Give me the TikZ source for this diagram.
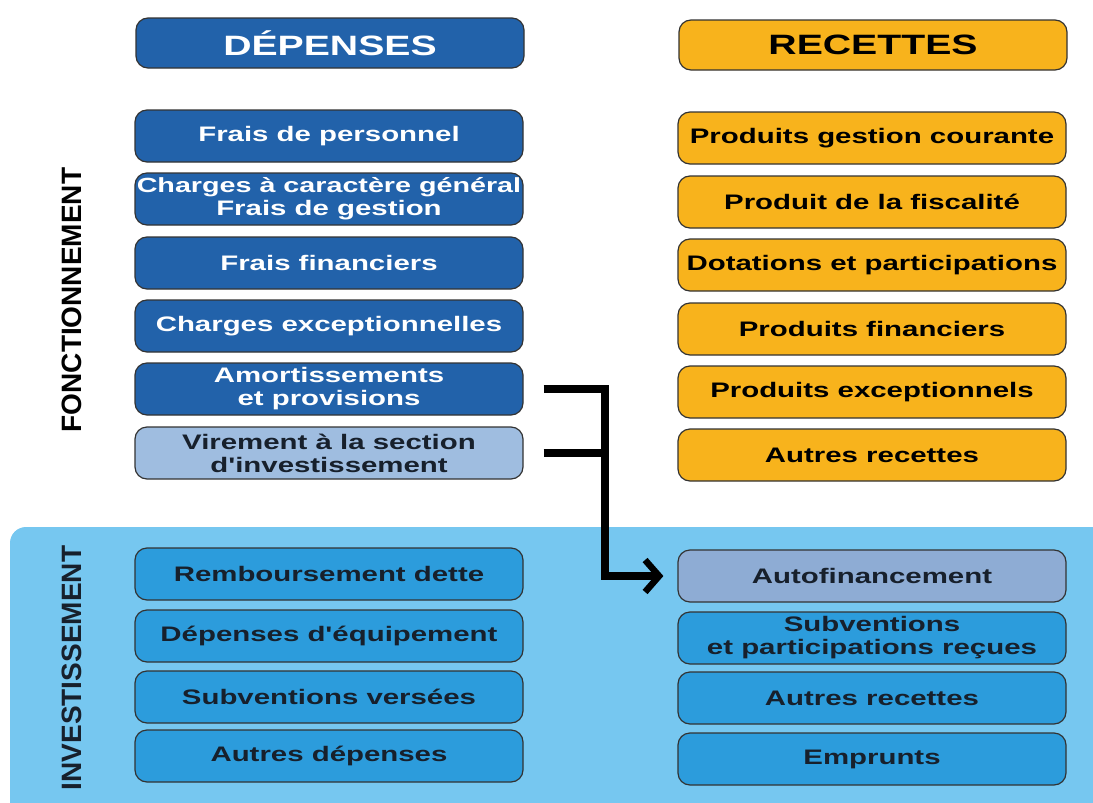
\documentclass[tikz,border=0pt]{standalone}
\usepackage{fontspec}
\setmainfont{Liberation Sans}
\newfontfamily\widefont{Liberation Sans}[FakeStretch=1.40]
\usetikzlibrary{arrows.meta}

\definecolor{depblue}{HTML}{2262AA}
\definecolor{recorange}{HTML}{F8B31C}
\definecolor{virblue}{HTML}{9FBDE0}
\definecolor{invbg}{HTML}{76C7F0}
\definecolor{invbox}{HTML}{2C9CDC}
\definecolor{autofin}{HTML}{8EACD4}
\definecolor{darktext}{HTML}{17202C}

\begin{document}
\begin{tikzpicture}[x=1pt, y=-1pt,
    box/.style={draw=black!80, line width=1.2pt, rounded corners=12pt,
      minimum width=388pt, minimum height=52pt, inner sep=0pt, align=center,
      font=\widefont\bfseries\fontsize{21}{23}\selectfont},
    head/.style={box, minimum height=50pt, font=\widefont\bfseries\fontsize{28}{30}\selectfont},
    dep/.style={fill=depblue, text=white},
    rec/.style={fill=recorange, text=black},
    inv/.style={fill=invbox, text=darktext},
    side/.style={rotate=90, font=\bfseries\fontsize{28}{30}\selectfont},
    link/.style={line width=8pt, black}]
\useasboundingbox (0,0) rectangle (1093,803);
\clip (0,0) rectangle (1093,803);

% investissement band
\fill[invbg, rounded corners=16pt] (10,527) rectangle (1110,830);

% headers
\node[head, dep] (dep) at (330,43) {DÉPENSES};
\node[head, rec] (rec) at (873,45) {RECETTES};

% fonctionnement
\node[side] (fonc) at (72,300) {FONCTIONNEMENT};
\node[box, dep] (f1) at (329,136) {Frais de personnel};
\node[box, dep] (f2) at (329,199) {\fontsize{20.5}{22}\selectfont Charges à caractère général\\Frais de gestion};
\node[box, dep] (f3) at (329,263) {Frais financiers};
\node[box, dep] (f4) at (329,326) {Charges exceptionnelles};
\node[box, dep] (f5) at (329,389) {Amortissements\\et provisions};
\node[box, fill=virblue, text=darktext] (f6) at (329,453) {Virement à la section\\d'investissement};

\node[box, rec] (r1) at (872,138) {Produits gestion courante};
\node[box, rec] (r2) at (872,202) {Produit de la fiscalité};
\node[box, rec] (r3) at (872,265) {Dotations et participations};
\node[box, rec] (r4) at (872,329) {Produits financiers};
\node[box, rec] (r5) at (872,392) {Produits exceptionnels};
\node[box, rec] (r6) at (872,455) {Autres recettes};

% investissement
\node[side, text=darktext] (inve) at (72,668) {INVESTISSEMENT};
\node[box, inv] (i1) at (329,574) {Remboursement dette};
\node[box, inv] (i2) at (329,636) {Dépenses d'équipement};
\node[box, inv] (i3) at (329,697) {Subventions versées};
\node[box, inv] (i4) at (329,756) {Autres dépenses};

\node[box, fill=autofin, text=darktext] (j1) at (872,576) {Autofinancement};
\node[box, inv] (j2) at (872,638) {Subventions\\et participations reçues};
\node[box, inv] (j3) at (872,698) {Autres recettes};
\node[box, inv] (j4) at (872,759) {Emprunts};

% autofinancement link
\coordinate (bend) at (605,389);
\draw[link, line join=miter, -{Straight Barb[length=14pt, width=32pt, line width=6.5pt]}]
  ([xshift=20]f5.east) -- (bend) |- ([xshift=-14]j1.west);
\draw[link] ([xshift=20]f6.east) -- (bend |- f6.east);
\end{tikzpicture}
\end{document}
